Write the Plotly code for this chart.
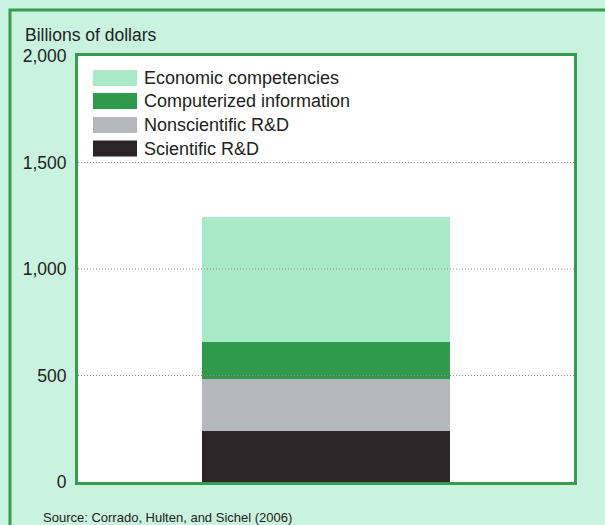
import plotly.graph_objects as go

# ---- data ----
components = ["Scientific R&D", "Nonscientific R&D", "Computerized information", "Economic competencies"]
values = [240, 245, 170, 590]  # billions of dollars, stacked bottom -> top
y_ticks = [0, 500, 1000, 1500, 2000]
y_tick_labels = ["0", "500", "1,000", "1,500", "2,000"]
y_title = "Billions of dollars"
source_note = "Source: Corrado, Hulten, and Sichel (2006)"

# ---- style ----
colors = {
    "Scientific R&D": "#2b2527",
    "Nonscientific R&D": "#b5b7bc",
    "Computerized information": "#2f9a4c",
    "Economic competencies": "#a9e9c8",
}
BG = "#c9f3de"
FRAME = "#3a9a50"
TEXT = "#222222"
FONT = "Liberation Sans, Arial, sans-serif"
W, H = 605, 525
L, R, T, B = 78, 574, 56, 482


def px(x):
    return (x - L) / (R - L)


def py(y):
    return (B - y) / (B - T)


fig = go.Figure()
for name, v in zip(components, values):
    fig.add_trace(go.Bar(
        x=[0], y=[v], width=0.5, name=name,
        marker=dict(color=colors[name], line=dict(width=0)),
        showlegend=False, hoverinfo="name+y",
    ))

shapes = []
# dotted gridlines drawn above the bar
for t in y_ticks[1:-1]:
    shapes.append(dict(type="line", xref="paper", yref="y", x0=0, x1=1, y0=t, y1=t,
                       line=dict(color="#8f8f8f", width=1, dash="1px,2px"), layer="above"))
# outer panel frame (top and left edges, extends off-page)
shapes.append(dict(type="path", xref="paper", yref="paper",
                   path=f"M {px(700)},{py(10)} L {px(10)},{py(10)} L {px(10)},{py(600)}",
                   line=dict(color=FRAME, width=3)))

annotations = []
# custom legend (top -> bottom)
legend_rows = list(reversed(components))
row_y = [78, 101, 125, 148.5]
for name, yc in zip(legend_rows, row_y):
    shapes.append(dict(type="rect", xref="paper", yref="paper",
                       x0=px(93), x1=px(137), y0=py(yc - 8), y1=py(yc + 8),
                       fillcolor=colors[name], line=dict(width=0), layer="above"))
    annotations.append(dict(text=name, xref="paper", yref="paper", x=px(142), y=py(yc),
                            xanchor="left", yanchor="middle", showarrow=False,
                            font=dict(size=18, color=TEXT, family=FONT)))

annotations.append(dict(text=y_title, xref="paper", yref="paper", x=px(23), y=py(35),
                        xanchor="left", yanchor="middle", showarrow=False,
                        font=dict(size=17.5, color=TEXT, family=FONT)))
annotations.append(dict(text=source_note, xref="paper", yref="paper", x=px(41), y=py(517),
                        xanchor="left", yanchor="middle", showarrow=False,
                        font=dict(size=13, color=TEXT,
                                  family="Liberation Sans Narrow, Arial Narrow, Liberation Sans, sans-serif")))

fig.update_layout(
    width=W, height=H,
    margin=dict(l=L, r=W - R, t=T, b=H - B, pad=0),
    paper_bgcolor=BG, plot_bgcolor="white",
    barmode="stack", bargap=0,
    shapes=shapes, annotations=annotations,
    showlegend=False,
    xaxis=dict(range=[-0.5, 0.5], showticklabels=False, showgrid=False, zeroline=False,
               showline=True, mirror=True, linecolor=FRAME, linewidth=3, ticks="", fixedrange=True),
    yaxis=dict(range=[0, 2000], tickvals=y_ticks, ticktext=y_tick_labels,
               showgrid=False, zeroline=False, showline=True, mirror=True,
               linecolor=FRAME, linewidth=3, ticks="", ticklabelstandoff=5,
               tickfont=dict(size=17.5, color=TEXT, family=FONT)),
)

fig.write_html(
    "out.html",
    config={"displayModeBar": False},
    post_script="document.body.style.margin='0';document.body.style.background='%s';" % BG,
)
